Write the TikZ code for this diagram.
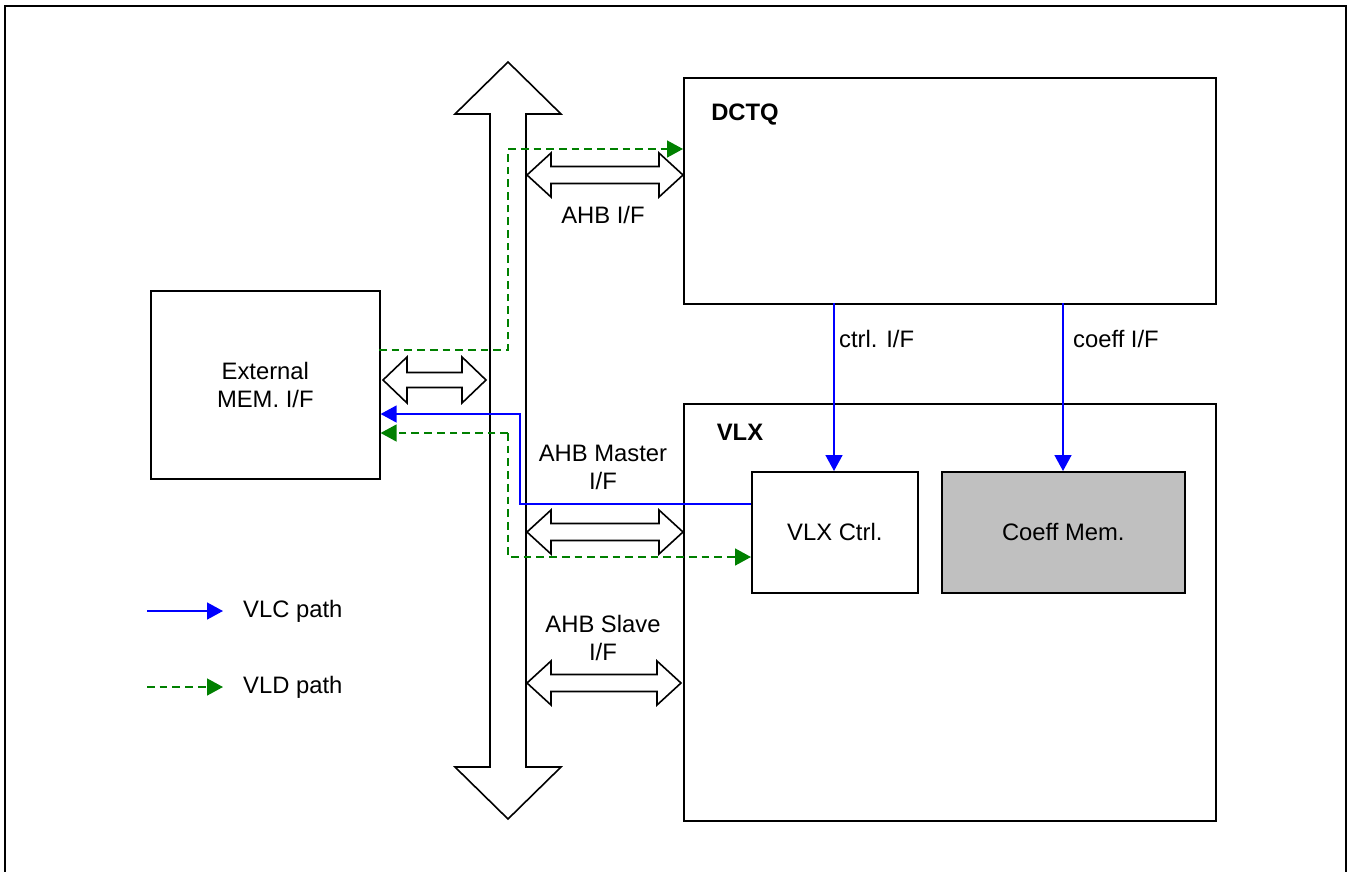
\documentclass[tikz,border=0pt]{standalone}
\usepackage{fontspec}
\setmainfont{Liberation Sans}
\usetikzlibrary{arrows.meta}
\definecolor{vlcblue}{RGB}{0,0,255}
\definecolor{vldgreen}{RGB}{0,128,0}
\definecolor{memgray}{RGB}{192,192,192}
\tikzset{
  blk/.style={draw=black, line width=1.6pt, fill=white, inner sep=0pt},
  lbl/.style={font=\fontsize{23.8}{28}\selectfont, align=center, inner sep=0pt},
  blbl/.style={font=\fontsize{23.8}{28}\selectfont\bfseries, inner sep=0pt},
  vlc/.style={draw=vlcblue, line width=1.5pt, -{Triangle[length=16pt,width=17pt]}},
  vld/.style={draw=vldgreen, line width=1.5pt, dash pattern=on 7.7pt off 5pt, -{Triangle[length=16pt,width=17pt]}},
  busarrow/.style={draw=black, line width=1.6pt, fill=white, line join=miter},
}
\newcommand{\dblarr}[5]{% x1 x2 y halfhead halfshaft
  \draw[busarrow] (#1,#3) -- (#1+24,#3-#4) -- (#1+24,#3-#5) -- (#2-24,#3-#5) -- (#2-24,#3-#4)
    -- (#2,#3) -- (#2-24,#3+#4) -- (#2-24,#3+#5) -- (#1+24,#3+#5) -- (#1+24,#3+#4) -- cycle;}
\begin{document}
\begin{tikzpicture}[x=1pt,y=-1pt]
\useasboundingbox (0,0) rectangle (1348,871);
% outer frame
\draw[line width=2.7pt] (5,890) -- (5,6) -- (1346,6) -- (1346,890);
% bus
\draw[busarrow] (508,62) -- (561,114) -- (526,114) -- (526,767) -- (561,767) -- (508,819)
  -- (455,767) -- (490,767) -- (490,114) -- (455,114) -- cycle;
% boxes
\node[blk, minimum width=532pt, minimum height=226pt, anchor=north west] (dctq) at (683,77) {};
\node[blk, minimum width=532pt, minimum height=417pt, anchor=north west] (vlx) at (683,403) {};
\node[blk, minimum width=229pt, minimum height=188pt, anchor=north west] (ext) at (150,290) {};
\node[blk, minimum width=166pt, minimum height=121pt, anchor=north west] (ctrl) at (751,471) {};
\node[blk, fill=memgray, minimum width=243pt, minimum height=121pt, anchor=north west] (coeff) at (941,471) {};
% labels in boxes
\node[blbl] (dctqlbl) at (745,115) {DCTQ};
\node[blbl] (vlxlbl) at (740,432) {VLX};
\node[lbl] (extlbl) at (ext.center) {External\\MEM. I/F};
\node[lbl] (ctrllbl) at (ctrl.center) {VLX Ctrl.};
\node[lbl] (coefflbl) at (coeff.center) {Coeff Mem.};
% double arrows
\dblarr{527}{683}{175}{22}{8.5}
\dblarr{383}{486}{380}{23}{7.5}
\dblarr{527}{683}{532}{22}{8.5}
\dblarr{527}{681}{683}{22}{8.5}
\node[lbl] (ahb) at (603,215) {AHB I/F};
\node[lbl] (ahbm) at (603,467) {AHB Master\\I/F};
\node[lbl] (ahbs) at (603,638) {AHB Slave\\I/F};
% control arrows
\coordinate (c1) at (834,303);
\coordinate (c2) at (1063,303);
\draw[vlc] (c1) -- (c1 |- ctrl.north);
\draw[vlc] (c2) -- (c2 |- coeff.north);
\node[lbl, anchor=west] (ctrlif) at (839,339) {ctrl. I/F};
\node[lbl, anchor=west] (coeffif) at (1073,339) {coeff I/F};
% VLC path
\coordinate (b0) at (751,504);
\draw[vlc] (b0) -- (520,504) -- (520,414) -- (ext.east |- 0,414);
% VLD paths
\coordinate (g0) at (379,350);
\draw[vld] (g0) -- (508,350) -- (508,149) -- (dctq.west |- 0,149);
\coordinate (g1) at (508,433);
\draw[vld] (g1) -- (ext.east |- 0,433);
\draw[vld] (g1) -- (508,557) -- (ctrl.west |- 0,557);
% legend
\coordinate (l1) at (147,611);
\coordinate (l2) at (223,611);
\coordinate (l3) at (147,687);
\coordinate (l4) at (223,687);
\draw[vlc] (l1) -- (l2);
\draw[vld] (l3) -- (l4);
\node[lbl, anchor=west] (vlcl) at (243,611) {VLC path};
\node[lbl, anchor=west] (vldl) at (243,687) {VLD path};
\end{tikzpicture}
\end{document}
